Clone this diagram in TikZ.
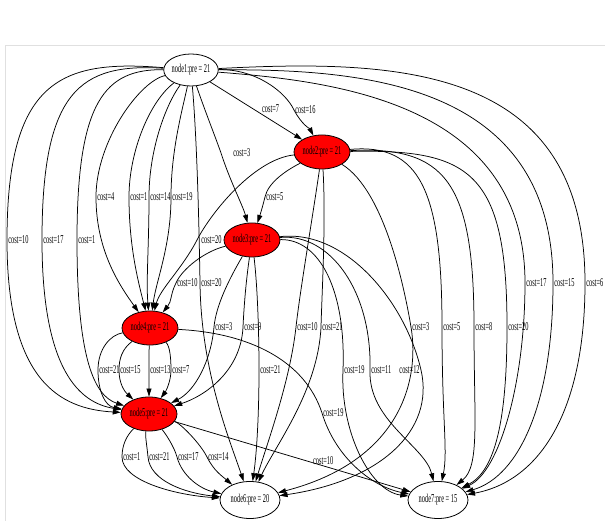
\documentclass[tikz,border=0pt]{standalone}
\usepackage{fontspec}
\setmainfont{Liberation Serif}[FakeStretch=0.53]
\usetikzlibrary{arrows.meta,shapes.geometric}

\begin{document}
\begin{tikzpicture}[
        x=1pt, y=1pt,
        >={Triangle[length=8pt,width=5pt]},
        ell/.style={ellipse, draw, line width=0.8pt, minimum width=56pt, minimum height=34pt, inner sep=0pt, font=\fontsize{12}{14}\selectfont},
        redell/.style={ell, fill=red},
        arrow/.style={->, line width=0.75pt},
        lbl/.style={anchor=west, inner sep=1pt, font=\fontsize{12}{14}\selectfont}
    ]
        \useasboundingbox (0,0) rectangle (605,521);
        \draw[black!12] (5,0) -- (5,476) -- (605,476);
        \node[ell, minimum width=54pt, minimum height=32pt] (n1) at (191,451) {node1:pre = 21};
        \node[redell] (n2) at (322,369) {node2:pre = 21};
        \node[redell] (n3) at (252,281) {node3:pre = 21};
        \node[redell] (n4) at (150,193) {node4:pre = 21};
        \node[redell] (n5) at (149,107) {node5:pre = 21};
        \node[ell, minimum width=60pt, minimum height=37pt] (n6) at (250,21) {node6:pre = 20};
        \node[ell, minimum width=60pt, minimum height=37pt] (n7) at (438,21) {node7:pre = 15};
        \draw[arrow] (n1) -- node[lbl, pos=0.55, anchor=south west]{cost=7} (n2);
        \draw[arrow] (n1) .. controls (255,452) and (285,430) .. (294,411) node[lbl]{cost=16} .. controls (302,396) and (310,392) .. (n2);
        \draw[arrow] (n1) .. controls (205,410) and (215,385) .. (221,368) node[lbl, xshift=11pt]{cost=3} .. controls (230,340) and (243,315) .. (n3);
        \draw[arrow] (n1) .. controls (140,440) and (96,380) .. (96,324) node[lbl]{cost=4} .. controls (96,270) and (120,235) .. (n4);
        \draw[arrow] (n1) .. controls (150,420) and (129,370) .. (129,324) node[lbl]{cost=1} .. controls (129,275) and (138,240) .. (n4);
        \draw[arrow] (n1) .. controls (165,415) and (149,370) .. (149,324) node[lbl]{cost=14} .. controls (149,275) and (146,240) .. (n4);
        \draw[arrow] (n1) .. controls (182,410) and (171,370) .. (171,324) node[lbl]{cost=19} .. controls (171,275) and (156,240) .. (n4);
        \draw[arrow] (n1) .. controls (60,462) and (7,440) .. (7,281) node[lbl]{cost=10} .. controls (7,140) and (60,112) .. (n5);
        \draw[arrow] (n1) .. controls (80,458) and (42,430) .. (42,281) node[lbl]{cost=17} .. controls (42,150) and (80,118) .. (n5);
        \draw[arrow] (n1) .. controls (105,452) and (77,420) .. (77,281) node[lbl]{cost=1} .. controls (77,160) and (95,125) .. (n5);
        \draw[arrow] (n1) .. controls (197,380) and (199,300) .. (200,238) node[lbl]{cost=20} .. controls (201,150) and (230,80) .. (n6);
        \draw[arrow] (n1) .. controls (330,440) and (525,420) .. (525,238) node[lbl]{cost=17} .. controls (525,140) and (500,50) .. (n7);
        \draw[arrow] (n1) .. controls (360,452) and (553,440) .. (553,238) node[lbl]{cost=15} .. controls (553,120) and (520,45) .. (n7);
        \draw[arrow] (n1) .. controls (400,462) and (585,455) .. (585,238) node[lbl]{cost=6} .. controls (585,110) and (540,40) .. (n7);
        \draw[arrow] (n2) .. controls (285,350) and (268,338) .. (265,324) node[lbl]{cost=5} .. controls (262,312) and (260,306) .. (n3);
        \draw[arrow] (n2) .. controls (255,362) and (212,310) .. (197,281) node[lbl, xshift=3pt]{cost=20} .. controls (182,252) and (160,232) .. (n4);
        \draw[arrow] (n2) .. controls (312,300) and (300,230) .. (296,194) node[lbl]{cost=10} .. controls (290,140) and (268,80) .. (n6);
        \draw[arrow] (n2) .. controls (326,300) and (322,230) .. (321,194) node[lbl]{cost=21} .. controls (318,130) and (275,75) .. (n6);
        \draw[arrow] (n2) .. controls (385,330) and (405,230) .. (411,194) node[lbl]{cost=3} .. controls (420,140) and (400,60) .. (n6);
        \draw[arrow] (n2) .. controls (420,378) and (442,330) .. (442,194) node[lbl]{cost=5} .. controls (442,100) and (448,70) .. (n7);
        \draw[arrow] (n2) .. controls (445,375) and (474,340) .. (474,194) node[lbl]{cost=8} .. controls (474,100) and (480,55) .. (n7);
        \draw[arrow] (n2) .. controls (470,372) and (507,350) .. (507,194) node[lbl]{cost=20} .. controls (507,100) and (495,50) .. (n7);
        \draw[arrow] (n3) .. controls (205,270) and (182,252) .. (176,238) node[lbl]{cost=10} .. controls (170,226) and (172,220) .. (n4);
        \draw[arrow] (n3) .. controls (228,240) and (216,215) .. (214,194) node[lbl]{cost=3} .. controls (211,160) and (195,130) .. (n5);
        \draw[arrow] (n3) .. controls (246,240) and (244,215) .. (243,194) node[lbl]{cost=9} .. controls (241,150) and (205,125) .. (n5);
        \draw[arrow] (n3) .. controls (258,230) and (259,180) .. (259,151) node[lbl]{cost=21} .. controls (259,110) and (257,70) .. (n6);
        \draw[arrow] (n3) .. controls (320,282) and (346,230) .. (343,151) node[lbl]{cost=19} .. controls (340,90) and (370,30) .. (n7);
        \draw[arrow] (n3) .. controls (330,288) and (372,230) .. (370,151) node[lbl]{cost=11} .. controls (368,100) and (425,75) .. (n7);
        \draw[arrow] (n3) .. controls (345,292) and (405,220) .. (421,151) node[lbl, anchor=east]{cost=12} .. controls (435,90) and (380,40) .. (n6);
        \draw[arrow] (n4) .. controls (110,186) and (98,172) .. (98,151) node[lbl]{cost=21} .. controls (98,130) and (105,115) .. (n5);
        \draw[arrow] (n4) .. controls (122,172) and (119,162) .. (119,151) node[lbl]{cost=15} .. controls (119,138) and (124,130) .. (n5);
        \draw[arrow] (n4) .. controls (149,170) and (149,160) .. (149,151) node[lbl]{cost=13} .. controls (149,140) and (149,130) .. (n5);
        \draw[arrow] (n4) .. controls (170,175) and (171,162) .. (171,151) node[lbl]{cost=7} .. controls (171,140) and (166,130) .. (n5);
        \draw[arrow] (n4) .. controls (250,188) and (305,160) .. (322,108) node[lbl]{cost=19} .. controls (335,65) and (370,35) .. (n7);
        \draw[arrow] (n5) .. controls (126,85) and (122,75) .. (122,64) node[lbl]{cost=1} .. controls (122,40) and (175,26) .. (n6);
        \draw[arrow] (n5) .. controls (145,85) and (147,75) .. (148,64) node[lbl]{cost=21} .. controls (150,40) and (185,28) .. (n6);
        \draw[arrow] (n5) .. controls (165,88) and (174,75) .. (177,64) node[lbl]{cost=17} .. controls (182,45) and (200,32) .. (n6);
        \draw[arrow] (n5) .. controls (180,98) and (200,78) .. (207,64) node[lbl]{cost=14} .. controls (214,50) and (222,45) .. (n6);
        \draw[arrow] (n5) -- node[lbl, pos=0.63, anchor=south]{cost=10} (n7);
    \end{tikzpicture}
\end{document}
